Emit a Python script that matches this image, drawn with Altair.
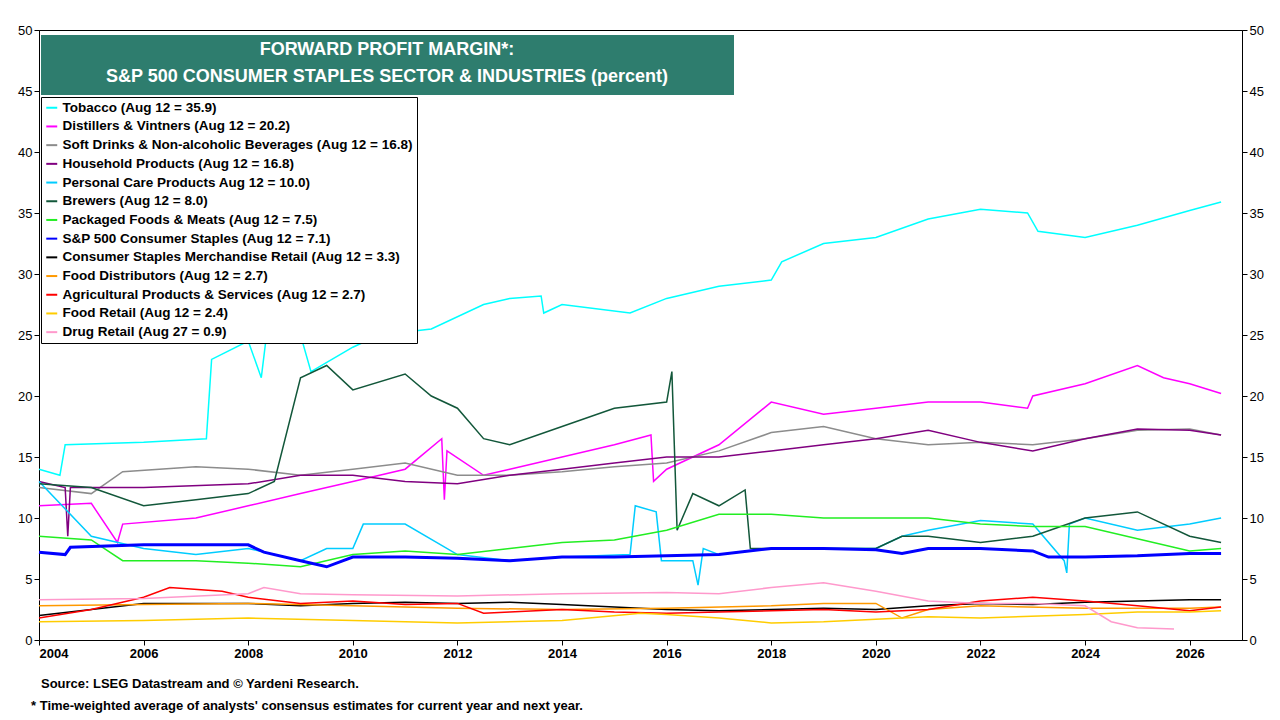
import pandas as pd
import altair as alt

names = [
    "Tobacco (Aug 12 = 35.9)",
    "Distillers & Vintners (Aug 12 = 20.2)",
    "Soft Drinks & Non-alcoholic Beverages (Aug 12 = 16.8)",
    "Household Products (Aug 12 = 16.8)",
    "Personal Care Products Aug 12 = 10.0)",
    "Brewers (Aug 12 = 8.0)",
    "Packaged Foods & Meats (Aug 12 = 7.5)",
    "S&P 500 Consumer Staples (Aug 12 = 7.1)",
    "Consumer Staples Merchandise Retail (Aug 12 = 3.3)",
    "Food Distributors (Aug 12 = 2.7)",
    "Agricultural Products & Services (Aug 12 = 2.7)",
    "Food Retail (Aug 12 = 2.4)",
    "Drug Retail (Aug 27 = 0.9)",
]
colors = ["#00FFFF", "#FF00FF", "#8C8C8C", "#800080", "#00CCFF", "#12573A", "#22EE22",
          "#0000FF", "#000000", "#FF9900", "#FF0000", "#FFCC00", "#FF99CC"]

tobacco = [(2004, 14), (2004.4, 13.5), (2004.5, 16), (2006, 16.2), (2007.2, 16.5), (2007.3, 23),
           (2008, 24.5), (2008.25, 21.5), (2008.35, 25), (2009, 25), (2009.2, 22), (2010, 24),
           (2010.5, 25), (2011.5, 25.5), (2012.5, 27.5), (2013, 28), (2013.6, 28.2), (2013.65, 26.8),
           (2014, 27.5), (2015.3, 26.8), (2016, 28), (2017, 29), (2018, 29.5), (2018.2, 31),
           (2019, 32.5), (2020, 33), (2021, 34.5), (2022, 35.3), (2022.9, 35), (2023.1, 33.5),
           (2024, 33), (2025, 34), (2026, 35.2), (2026.6, 35.9)]
distillers = [(2004, 11), (2005, 11.2), (2005.5, 8), (2005.6, 9.5), (2007, 10), (2008, 11),
              (2009, 12), (2010, 13), (2011, 14), (2011.7, 16.5), (2011.75, 11.5), (2011.8, 15.5),
              (2012.5, 13.5), (2013, 14), (2014, 15), (2015, 16), (2015.7, 16.8), (2015.75, 13),
              (2016, 14), (2017, 16), (2018, 19.5), (2019, 18.5), (2020, 19), (2021, 19.5),
              (2022, 19.5), (2022.9, 19), (2023, 20), (2024, 21), (2025, 22.5), (2025.5, 21.5),
              (2026, 21), (2026.6, 20.2)]
soft_drinks = [(2004, 12.5), (2005, 12), (2005.6, 13.8), (2007, 14.2), (2008, 14), (2009, 13.5),
               (2010, 14), (2011, 14.5), (2012, 13.5), (2013, 13.5), (2014, 13.8), (2015, 14.2),
               (2016, 14.5), (2017, 15.5), (2018, 17), (2019, 17.5), (2020, 16.5), (2021, 16),
               (2022, 16.2), (2023, 16), (2024, 16.5), (2025, 17.2), (2026, 17.3), (2026.6, 16.8)]
household = [(2004, 13), (2004.5, 12.5), (2004.55, 8.5), (2004.6, 12.5), (2006, 12.5), (2008, 12.8),
             (2009, 13.5), (2010, 13.5), (2011, 13), (2012, 12.8), (2013, 13.5), (2014, 14),
             (2015, 14.5), (2016, 15), (2017, 15), (2018, 15.5), (2019, 16), (2020, 16.5),
             (2021, 17.2), (2022, 16.2), (2023, 15.5), (2024, 16.5), (2025, 17.3), (2026, 17.2),
             (2026.6, 16.8)]
personal = [(2004, 13), (2005, 8.5), (2006, 7.5), (2007, 7), (2008, 7.5), (2009, 6.5),
            (2009.5, 7.5), (2010, 7.5), (2010.2, 9.5), (2011, 9.5), (2012, 7), (2013, 6.5),
            (2014, 6.8), (2015.3, 7), (2015.4, 11), (2015.8, 10.5), (2015.9, 6.5), (2016.5, 6.5),
            (2016.6, 4.5), (2016.7, 7.5), (2017, 7), (2018, 7.5), (2019, 7.5), (2020, 7.5),
            (2020.5, 8.5), (2021, 9), (2022, 9.8), (2023, 9.5), (2023.6, 6.5), (2023.65, 5.5),
            (2023.7, 9.5), (2024, 10), (2025, 9), (2026, 9.5), (2026.6, 10)]
brewers = [(2004, 12.8), (2005, 12.5), (2006, 11), (2007, 11.5), (2008, 12), (2008.5, 13),
           (2009, 21.5), (2009.5, 22.5), (2010, 20.5), (2011, 21.8), (2011.5, 20), (2012, 19),
           (2012.5, 16.5), (2013, 16), (2014, 17.5), (2015, 19), (2016, 19.5), (2016.1, 22),
           (2016.2, 9), (2016.5, 12), (2017, 11), (2017.5, 12.3), (2017.6, 7.5), (2018, 7.5),
           (2019, 7.5), (2020, 7.5), (2020.5, 8.5), (2021, 8.5), (2022, 8), (2023, 8.5),
           (2024, 10), (2025, 10.5), (2026, 8.5), (2026.6, 8)]
packaged = [(2004, 8.5), (2005, 8.2), (2005.6, 6.5), (2006, 6.5), (2007, 6.5), (2008, 6.3),
            (2009, 6), (2010, 7), (2011, 7.3), (2012, 7), (2013, 7.5), (2014, 8), (2015, 8.2),
            (2016, 9), (2017, 10.3), (2018, 10.3), (2019, 10), (2020, 10), (2021, 10),
            (2022, 9.5), (2023, 9.3), (2024, 9.3), (2025, 8.3), (2026, 7.3), (2026.6, 7.5)]
sp500 = [(2004, 7.2), (2004.5, 7), (2004.6, 7.6), (2006, 7.8), (2008, 7.8), (2008.3, 7.2),
         (2009, 6.5), (2009.5, 6), (2010, 6.8), (2011, 6.8), (2012, 6.7), (2013, 6.5),
         (2014, 6.8), (2015, 6.8), (2016, 6.9), (2017, 7), (2018, 7.5), (2019, 7.5),
         (2020, 7.4), (2020.5, 7.1), (2021, 7.5), (2022, 7.5), (2023, 7.3), (2023.3, 6.8),
         (2024, 6.8), (2025, 6.9), (2026, 7.1), (2026.6, 7.1)]
merch_retail = [(2004, 2), (2005, 2.5), (2006, 3), (2008, 3), (2009, 2.8), (2010, 3), (2011, 3.1),
                (2012, 3), (2013, 3.1), (2014, 2.9), (2015, 2.7), (2016, 2.5), (2017, 2.4),
                (2018, 2.5), (2019, 2.6), (2020, 2.5), (2021, 2.8), (2022, 3), (2023, 2.9),
                (2024, 3.1), (2025, 3.2), (2026, 3.3), (2026.6, 3.3)]
food_dist = [(2004, 2.8), (2006, 2.9), (2008, 3), (2010, 2.8), (2012, 2.6), (2014, 2.5),
             (2016, 2.6), (2018, 2.8), (2019, 3), (2020, 3), (2020.5, 1.8), (2021, 2.5),
             (2022, 2.8), (2024, 2.6), (2026, 2.6), (2026.6, 2.7)]
agri = [(2004, 1.8), (2005, 2.5), (2006, 3.5), (2006.5, 4.3), (2007.5, 4), (2008, 3.5),
        (2009, 3), (2010, 3.2), (2011, 2.9), (2012, 3), (2012.5, 2.2), (2013, 2.3), (2014, 2.5),
        (2015, 2.3), (2016, 2.2), (2017, 2.3), (2018, 2.4), (2019, 2.5), (2020, 2.3),
        (2021, 2.5), (2022, 3.2), (2023, 3.5), (2024, 3.2), (2025, 2.8), (2026, 2.4), (2026.6, 2.7)]
food_retail = [(2004, 1.5), (2006, 1.6), (2008, 1.8), (2010, 1.6), (2012, 1.4), (2014, 1.6),
               (2015.5, 2.2), (2016, 2.1), (2017, 1.8), (2018, 1.4), (2019, 1.5), (2020, 1.7),
               (2021, 1.9), (2022, 1.8), (2024, 2.1), (2025, 2.3), (2026, 2.3), (2026.6, 2.4)]
drug_retail = [(2004, 3.3), (2006, 3.4), (2008, 3.8), (2008.3, 4.3), (2009, 3.8), (2010, 3.7),
               (2012, 3.6), (2014, 3.8), (2016, 3.9), (2017, 3.8), (2018, 4.3), (2019, 4.7),
               (2020, 4), (2021, 3.2), (2022, 3), (2023, 3), (2024, 2.8), (2024.5, 1.5),
               (2025, 1), (2025.7, 0.9)]

series = [tobacco, distillers, soft_drinks, household, personal, brewers, packaged, sp500,
          merch_retail, food_dist, agri, food_retail, drug_retail]

rows = []
for name, pts in zip(names, series):
    for x, y in pts:
        rows.append({"series": name, "year": x, "value": y,
                     "w": "thick" if name.startswith("S&P") else "thin"})
df = pd.DataFrame(rows)

FONT = "Liberation Sans"
xscale = alt.Scale(domain=[2004, 2027], nice=False)
yscale = alt.Scale(domain=[0, 50], nice=False)

lines = alt.Chart(df).mark_line().encode(
    x=alt.X("year:Q", scale=xscale, title=None,
            axis=alt.Axis(values=list(range(2004, 2027, 2)), format="d", grid=False,
                          labelFontWeight="bold", labelFontSize=13, labelFont=FONT)),
    y=alt.Y("value:Q", scale=yscale, title=None,
            axis=alt.Axis(values=list(range(0, 51, 5)), grid=False, labelFontSize=13,
                          labelFont=FONT, orient="left")),
    color=alt.Color("series:N", sort=names, scale=alt.Scale(domain=names, range=colors),
                    legend=alt.Legend(title=None, orient="none", legendX=2, legendY=67,
                                      fillColor="white", strokeColor="black", padding=4,
                                      symbolType="stroke", symbolStrokeWidth=2, symbolSize=120,
                                      labelFontSize=13.5, labelFontWeight="bold", labelFont=FONT,
                                      rowPadding=3.7, labelLimit=500)),
    strokeWidth=alt.StrokeWidth("w:N", scale=alt.Scale(domain=["thick", "thin"], range=[3, 1.5]),
                                legend=None),
    detail="series:N",
)

right = alt.Chart(df[df["series"] == names[7]]).mark_line(opacity=0).encode(
    x=alt.X("year:Q", scale=xscale),
    y=alt.Y("value:Q", scale=yscale, title=None,
            axis=alt.Axis(values=list(range(0, 51, 5)), grid=False, labelFontSize=13,
                          labelFont=FONT, orient="right")),
)

title_box = alt.Chart(df.head(1)).mark_rect(color="#2E7D6E").encode(
    x=alt.value(2), x2=alt.value(695), y=alt.value(5), y2=alt.value(65))
title_l1 = alt.Chart(df.head(1)).mark_text(color="white", fontWeight="bold", fontSize=18, font=FONT).encode(
    text=alt.value("FORWARD PROFIT MARGIN*:"), x=alt.value(348), y=alt.value(20))
title_l2 = alt.Chart(df.head(1)).mark_text(color="white", fontWeight="bold", fontSize=18, font=FONT).encode(
    text=alt.value("S&P 500 CONSUMER STAPLES SECTOR & INDUSTRIES (percent)"), x=alt.value(348), y=alt.value(47))
src1 = alt.Chart(df.head(1)).mark_text(align="left", fontWeight="bold", fontSize=13, font=FONT).encode(
    text=alt.value("Source: LSEG Datastream and © Yardeni Research."), x=alt.value(2), y=alt.value(654))
src2 = alt.Chart(df.head(1)).mark_text(align="left", fontWeight="bold", fontSize=13, font=FONT).encode(
    text=alt.value("* Time-weighted average of analysts' consensus estimates for current  year and next year."),
    x=alt.value(-8), y=alt.value(676))

chart = alt.layer(lines, right, title_box, title_l1, title_l2, src1, src2).resolve_scale(
    y="independent").properties(width=1203, height=610, padding={"left": 9, "top": 16, "right": 5, "bottom": 5}
).configure_view(stroke="black", strokeWidth=1).configure_axis(
    domainColor="black", tickColor="black", labelColor="black")

chart.save("out.html", embed_options={"renderer": "svg", "actions": False})
